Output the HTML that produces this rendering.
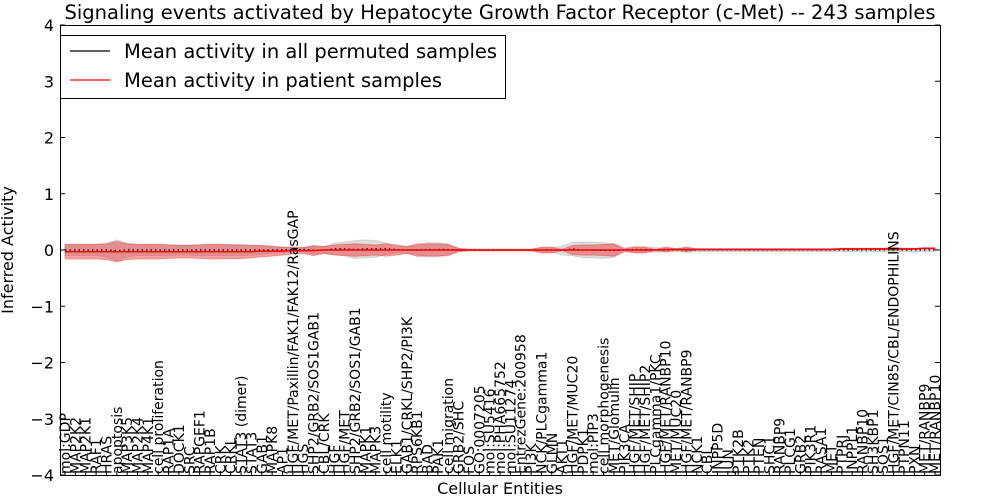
<!DOCTYPE html>
<html><head><meta charset="utf-8"><style>
body{margin:0;background:#fff;}
svg{display:block;font-family:"DejaVu Sans","Liberation Sans",sans-serif;}
</style></head><body>
<svg id="chart" width="1000" height="500" viewBox="0 0 1000 500" xmlns="http://www.w3.org/2000/svg">
<rect width="1000" height="500" fill="#fff"/>
<text x="500" y="19" font-size="19.5" text-anchor="middle">Signaling events activated by Hepatocyte Growth Factor Receptor (c-Met) -- 243 samples</text>
<g id="plot"></g>
<text transform="translate(13,250) rotate(-90)" font-size="16" text-anchor="middle">Inferred Activity</text>
<text x="500" y="494" font-size="16" text-anchor="middle">Cellular Entities</text>
<g>
<rect x="60.5" y="35.5" width="445" height="63" fill="#fff" stroke="#000"/>
<line x1="70" y1="51" x2="110" y2="51" stroke="#000" stroke-width="1.2"/>
<text x="124" y="58" font-size="19.5">Mean activity in all permuted samples</text>
<line x1="70" y1="80" x2="110" y2="80" stroke="#f00" stroke-width="1.2"/>
<text x="124" y="87" font-size="19.5">Mean activity in patient samples</text>
</g>
</svg>
<script>
const categories=["mol:GDP","MAP2K2","MAP2K1","RAF1","HRAS","apoptosis","MAP3K5","MAP2K4","MAP4K1","cell proliferation","RAP1A","DOCK1","SRC","RAPGEF1","RAP1B","CRK","CRKL","STAT3 (dimer)","STAT3","GAB1","MAPK8","AP1","HGF/MET/Paxillin/FAK1/FAK12/RasGAP","HGS","SHP2/GRB2/SOS1GAB1","CBL/CRK","HGF","HGF/MET","SHP2/GRB2/SOS1/GAB1","MAPK1","MAPK3","cell motility","ELK1","GAB1/CRKL/SHP2/PI3K","RPS6KB1","BAD","PAK1","cell migration","GRB2/SHC","FOS","GO:0007205","mol:SU5416","mol:PHA665752","mol:SU11274","EntrezGene:200958","PI3K","NCK/PLCgamma1","GLMN","AKT1","HGF/MET/MUC20","PDPK1","mol:PIP3","cell morphogenesis","MET/Glomulin","PIK3CA","HGF/MET/SHIP","HGF/MET/SHIP2","PLCgamma1/PKC","HGF/MET/RANBP10","MET/MUC20","HGF/MET/RANBP9","NCK1","CBL","INPP5D","JUN","PTK2B","PTK2","PTEN","SHC1","RANBP9","PLCG1","GRB2","PIK3R1","RASA1","MET","PTPRJ","INPPL1","RANBP10","SH3KBP1","SOS1","HGF/MET/CIN85/CBL/ENDOPHILINS","PTPN11","PXN","MET/RANBP9","MET/RANBP10"];
const patientMean=[-0.03,-0.03,-0.03,-0.03,-0.03,-0.03,-0.03,-0.03,-0.03,-0.03,-0.03,-0.03,-0.03,-0.03,-0.03,-0.03,-0.03,-0.03,-0.03,-0.02,-0.02,-0.02,-0.01,-0.01,-0.01,0,0,0,0,0,0,0,0,0,0,0,0,0,0,0,0,0,0,0,0,0,0,0,0,0,0,0,0,0,0,0,0,0,0.01,0.01,0.01,0.01,0.01,0.01,0.01,0.01,0.01,0.01,0.01,0.01,0.01,0.01,0.01,0.01,0.01,0.02,0.02,0.02,0.02,0.02,0.02,0.02,0.02,0.03,0.03];
const permutedMean=[0,0,0,0,0,-0.01,0,0,0,0,0,0,0,0,0,0,0,0,0,0,0,0,0.01,0.01,0,0,0.02,0.02,0.01,0.02,0.02,0.02,0.01,0,0,0.01,0.01,0.01,0,0,0,0,0,0,0,0,0,0,-0.01,0.02,0,0,-0.01,-0.01,0,0.01,0.01,0,0,0,0,0,0,0,0,0,0,0,0,0,0,0,0,0,0,0,0,0,0,0,0,0,0,0,0];
const patientSpread=[0.13,0.13,0.13,0.13,0.14,0.18,0.14,0.13,0.13,0.13,0.12,0.11,0.11,0.12,0.13,0.13,0.12,0.12,0.11,0.1,0.09,0.07,0.06,0.05,0.09,0.06,0.09,0.1,0.11,0.1,0.09,0.11,0.09,0.06,0.11,0.11,0.11,0.1,0.03,0.01,0.01,0.01,0.01,0.01,0.01,0.01,0.05,0.05,0.01,0.08,0.09,0.09,0.1,0.11,0.02,0.05,0.05,0.01,0.04,0.01,0.04,0.01,0.01,0.01,0.01,0.01,0.01,0.01,0.01,0.01,0.01,0.01,0.01,0.01,0.01,0.01,0.01,0.01,0.01,0.01,0.03,0.01,0.01,0.01,0.01];
const permutedSpread=[0.1,0.1,0.1,0.1,0.12,0.19,0.12,0.1,0.1,0.1,0.1,0.09,0.09,0.1,0.1,0.1,0.1,0.1,0.09,0.08,0.06,0.05,0.04,0.04,0.07,0.06,0.1,0.12,0.16,0.16,0.15,0.1,0.06,0.06,0.08,0.12,0.12,0.09,0.03,0.02,0.02,0.02,0.02,0.02,0.02,0.02,0.04,0.04,0.08,0.12,0.14,0.14,0.14,0.12,0.04,0.05,0.05,0.04,0.04,0.03,0.04,0.03,0.03,0.03,0.03,0.03,0.03,0.03,0.03,0.03,0.03,0.03,0.03,0.03,0.03,0.03,0.03,0.03,0.03,0.03,0.04,0.03,0.03,0.03,0.03];
const yTicks=[-4,-3,-2,-1,0,1,2,3,4];

const NS="http://www.w3.org/2000/svg";
const L=60,R=940,T=25,B=475;
const n=categories.length;
const x0=65,x1=935;
function xs(i){return x0+(x1-x0)*i/(n-1);}
function ys(v){return T+(4-v)*(B-T)/8;}
const g=document.getElementById('plot');
function mk(tag,attrs){const e=document.createElementNS(NS,tag);for(const k in attrs)e.setAttribute(k,attrs[k]);g.appendChild(e);return e;}
function band(mean,spread){let up=[],dn=[];for(let i=0;i<n;i++){up.push(xs(i)+','+ys(mean[i]+spread[i]));dn.unshift(xs(i)+','+ys(mean[i]-spread[i]));}return up.concat(dn).join(' ');}
let e=mk('polygon',{points:band(permutedMean,permutedSpread),fill:'#bbb','fill-opacity':'0.5',stroke:'#aaa','stroke-opacity':'0.4'});


e=mk('polygon',{points:band(patientMean,patientSpread),fill:'#ee3030','fill-opacity':'0.45',stroke:'#ee3030','stroke-opacity':'0.4'});


e=mk('polyline',{points:permutedMean.map((v,i)=>xs(i)+','+ys(v)).join(' '),fill:'none',stroke:'#000','stroke-width':'1.2','stroke-dasharray':'1.5,3'});


e=mk('polyline',{points:patientMean.map((v,i)=>xs(i)+','+ys(v)).join(' '),fill:'none',stroke:'#f00','stroke-width':'1.5'});


e=mk('rect',{x:L+0.5,y:T+0.5,width:R-L,height:B-T,fill:'none',stroke:'#000'});


yTicks.forEach(v=>{const y=ys(v);
 let t=mk('line',{x1:L,x2:L+5,y1:y,y2:y,stroke:'#000'});
 
 
 t=mk('line',{x1:R-5,x2:R,y1:y,y2:y,stroke:'#000'});
 
 
 t=mk('text',{x:L-6,y:y+6,'font-size':'16','text-anchor':'end'});t.textContent=(v<0?'\u2212':'')+Math.abs(v);
 
 
});
categories.forEach((c,i)=>{const x=xs(i);
 let t=mk('line',{x1:x,x2:x,y1:B,y2:B-4,stroke:'#000'});
 
 
 t=mk('text',{transform:`translate(${x+5},${B-1}) rotate(-90)`,'font-size':'14'});t.textContent=c;
 
 
});
</script>
</body></html>
